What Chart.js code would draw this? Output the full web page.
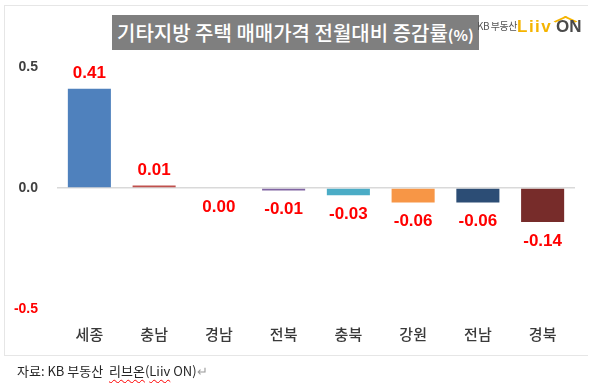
<!DOCTYPE html>
<html>
<head>
<meta charset="utf-8">
<script src="https://cdn.jsdelivr.net/npm/chart.js@4"></script>
<style>
  html, body { margin: 0; padding: 0; background: #ffffff; }
  body { width: 602px; height: 383px; position: relative; overflow: hidden; }
  #frame { position: absolute; left: 4px; top: 5px; width: 583px; height: 349px;
           border-left: 1px solid #e6e6e6; border-top: 1px solid #e6e6e6; border-bottom: 1px solid #e6e6e6; }
  #wrap { position: absolute; left: 0; top: 0; width: 602px; height: 383px; }
  #title { position: absolute; left: 112px; top: 15px; width: 367px; height: 35px;
           background: #7f7f7f; color: #ffffff; font-family: 'Noto Sans CJK KR', sans-serif; font-weight: 500;
           font-size: 20px; line-height: 35px; white-space: nowrap; box-sizing: border-box; padding-left: 5px; }
  #title .pct { font-size: 15px; font-weight: bold; }
  #kb { position: absolute; left: 477px; top: 19px; font-family: 'Noto Sans CJK KR', sans-serif;
        font-size: 10px; color: #555555; white-space: nowrap; line-height: 14px; letter-spacing: -0.5px; }
  #liiv { position: absolute; left: 517px; top: 17px; font-family: 'Liberation Sans', Arial, sans-serif;
          font-weight: bold; font-size: 17px; color: #f5b400; line-height: 20px; white-space: nowrap; letter-spacing: 1.5px; }
  #on { position: absolute; left: 556px; top: 17px; font-family: 'Liberation Sans', Arial, sans-serif;
        font-weight: bold; font-size: 17px; color: #4a4a4a; line-height: 20px; white-space: nowrap; }
  #roof { position: absolute; left: 557px; top: 13px; width: 14px; height: 14px;
          border-left: 3px solid #f5b400; border-top: 3px solid #f5b400; transform: scaleY(0.45) rotate(45deg); transform-origin: center; }
  #source { position: absolute; left: 17px; top: 362px; font-family: 'Noto Sans CJK KR', sans-serif;
            font-size: 13px; color: #262626; white-space: nowrap; line-height: 18px; }
  #source .sp { text-decoration: underline wavy #ff0000; text-decoration-thickness: 1px; text-underline-offset: 3px; }
  #source .ret { color: #9a9a9a; }
</style>
</head>
<body>
<div id="frame"></div>
<div id="wrap"><canvas id="chart" width="602" height="383"></canvas></div>
<div id="title">기타지방 주택 매매가격 전월대비 증감률<span class="pct">(%)</span></div>
<div id="kb">KB 부동산</div>
<div id="liiv">Liiv</div>
<div id="roof"></div>
<div id="on">ON</div>
<div id="source">자료: KB 부동산&nbsp; <span class="sp">리브온</span>(<span class="sp">Liiv</span> ON)<span class="ret">↵</span></div>
<script>
const categories = ['세종', '충남', '경남', '전북', '충북', '강원', '전남', '경북'];
const values = [0.41, 0.01, 0.00, -0.01, -0.03, -0.06, -0.06, -0.14];
const valueLabels = ['0.41', '0.01', '0.00', '-0.01', '-0.03', '-0.06', '-0.06', '-0.14'];
const yMin = -0.5, yMax = 0.5, yStep = 0.5;

const barColors = ['#4f81bd', '#c0504d', '#9bbb59', '#8064a2', '#4bacc6', '#f79646', '#2c4d75', '#772c2a'];

const labelPlugin = {
  id: 'valueLabels',
  afterDatasetsDraw(chart) {
    const ctx = chart.ctx;
    const meta = chart.getDatasetMeta(0);
    ctx.save();
    ctx.font = "bold 17px 'Liberation Sans', Arial, sans-serif";
    ctx.fillStyle = '#ff0000';
    ctx.textAlign = 'center';
    ctx.textBaseline = 'middle';
    meta.data.forEach((bar, i) => {
      const v = values[i];
      const y = v > 0 ? bar.y - 15 : bar.y + 19;
      ctx.fillText(valueLabels[i], bar.x, y);
    });
    ctx.restore();
  }
};

new Chart(document.getElementById('chart'), {
  type: 'bar',
  data: {
    labels: categories,
    datasets: [{
      data: values,
      backgroundColor: barColors,
      borderWidth: 0,
      categoryPercentage: 1.0,
      barPercentage: 0.665
    }]
  },
  options: {
    responsive: false,
    animation: false,
    devicePixelRatio: 1,
    layout: { padding: { left: 0, right: 27, top: 67, bottom: 34 } },
    plugins: { legend: { display: false }, tooltip: { enabled: false } },
    scales: {
      x: {
        grid: { display: false, drawTicks: false },
        border: { display: false },
        ticks: {
          color: '#3a3a3a',
          font: { family: "'Noto Sans CJK KR', sans-serif", size: 15, weight: 500 },
          padding: 16
        },
        afterFit(scale) { scale.height = 40; }
      },
      y: {
        min: yMin, max: yMax,
        grid: {
          drawTicks: false,
          color: (c) => (c.tick && c.tick.value === 0 ? '#d9d9d9' : 'rgba(0,0,0,0)'),
          lineWidth: 1.5
        },
        border: { display: false },
        ticks: {
          stepSize: yStep,
          padding: 19,
          color: (c) => (c.tick && c.tick.value < 0 ? '#ff0000' : '#404040'),
          font: { family: "'Liberation Sans', Arial, sans-serif", size: 14, weight: 'bold' },
          callback: (v) => Number(v).toFixed(1)
        },
        afterFit(scale) { scale.width = 57; }
      }
    }
  },
  plugins: [labelPlugin]
});
</script>
</body>
</html>
